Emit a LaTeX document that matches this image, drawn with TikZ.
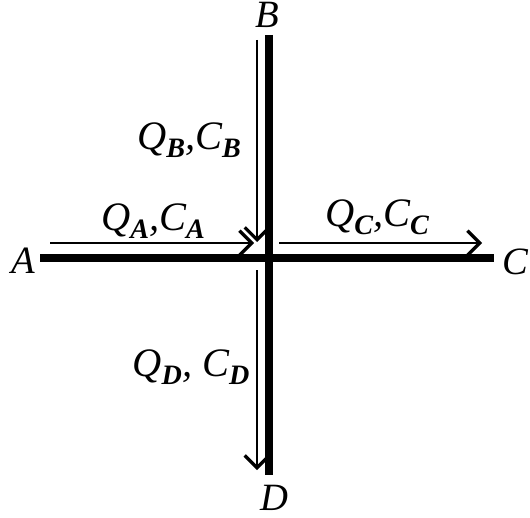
\documentclass[tikz,border=0pt]{standalone}
\usepackage{fontspec}
\setmainfont{Liberation Serif}
\usetikzlibrary{arrows.meta}
\newcommand{\lowsub}[1]{\raisebox{-0.45ex}{\fontsize{16}{16}\selectfont\bfseries\itshape #1}}

\begin{document}
\begin{tikzpicture}[x=0.02cm, y=-0.02cm,
  pipe/.style={line width=4.6pt},
  flow/.style={line width=1.7pt, -{Straight Barb[length=7pt, width=14pt, line width=1.9pt]}},
  lbl/.style={font=\fontsize{22}{24}\selectfont\itshape, inner sep=0pt},
  qlbl/.style={font=\fontsize{23}{25}\selectfont\itshape, inner sep=0pt, anchor=base}]

\useasboundingbox (0,0) rectangle (530,517);

% === PIPES ===
\coordinate (pA) at (40,258);
\coordinate (pC) at (494,258);
\coordinate (pB) at (269,35);
\coordinate (pD) at (269,475);
\draw[pipe] (pA) -- (pC);
\draw[pipe] (pB) -- (pD);

% === END LABELS ===
\node[lbl, anchor=base] (A) at (23,273) {A};
\node[lbl, anchor=base] (C) at (515,274) {C};
\node[lbl, anchor=base] (B) at (267,28) {B};
\node[lbl, anchor=base] (D) at (274,510) {D};

% === FLOWS ===
\coordinate (fA0) at (50,243);
\coordinate (fA1) at (254,243);
\coordinate (fB0) at (257,40);
\coordinate (fB1) at (257,242);
\coordinate (fC0) at (279,243);
\coordinate (fC1) at (482,243);
\coordinate (fD0) at (257,270);
\coordinate (fD1) at (257,470);
\draw[flow] (fA0) -- (fA1);
\draw[flow] (fB0) -- (fB1);
\draw[flow] (fC0) -- (fC1);
\draw[flow] (fD0) -- (fD1);

\node[qlbl] (qa) at (153,230) {Q\lowsub{A},C\lowsub{A}};
\node[qlbl] (qb) at (189,149) {Q\lowsub{B},C\lowsub{B}};
\node[qlbl] (qc) at (377,226) {Q\lowsub{C},C\lowsub{C}};
\node[qlbl] (qd) at (191,376) {Q\lowsub{D}, C\lowsub{D}};

\end{tikzpicture}
\end{document}
